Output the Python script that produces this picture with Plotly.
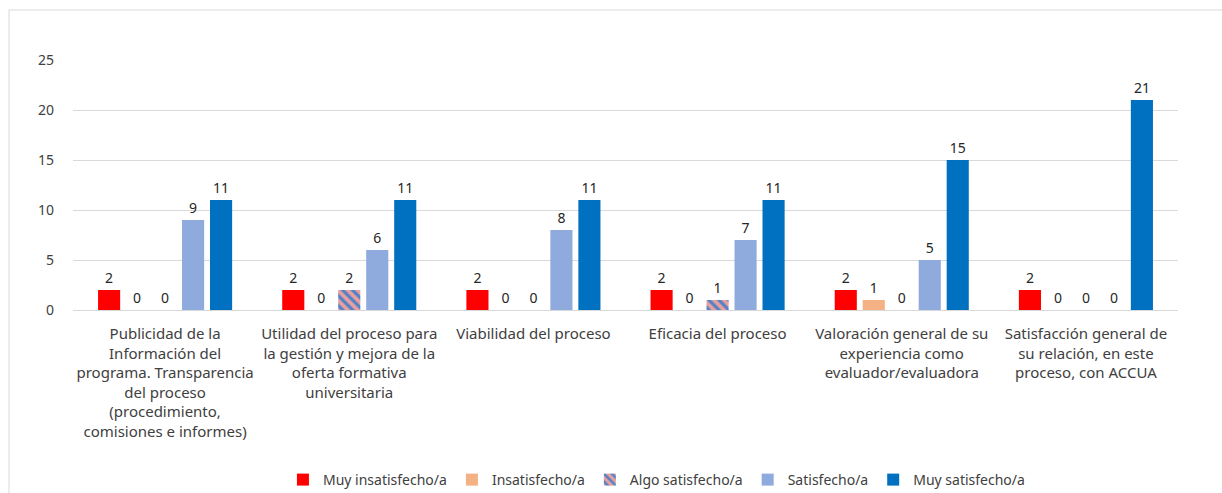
import plotly.graph_objects as go

categories = [
    "Publicidad de la<br>Información del<br>programa. Transparencia<br>del proceso<br>(procedimiento,<br>comisiones e informes)",
    "Utilidad del proceso para<br>la gestión y mejora de la<br>oferta formativa<br>universitaria",
    "Viabilidad del proceso",
    "Eficacia del proceso",
    "Valoración general de su<br>experiencia como<br>evaluador/evaluadora",
    "Satisfacción general de<br>su relación, en este<br>proceso, con ACCUA",
]
series_names = ["Muy insatisfecho/a", "Insatisfecho/a", "Algo satisfecho/a", "Satisfecho/a", "Muy satisfecho/a"]
muy_insatisfecho = [2, 2, 2, 2, 2, 2]
insatisfecho = [0, 0, 0, 0, 1, 0]
algo_satisfecho = [0, 2, 0, 1, 0, 0]
satisfecho = [9, 6, 8, 7, 5, 0]
muy_satisfecho = [11, 11, 11, 11, 15, 21]
y_ticks = [0, 5, 10, 15, 20, 25]

values = [muy_insatisfecho, insatisfecho, algo_satisfecho, satisfecho, muy_satisfecho]
colors = ["#FF0000", "#F4B183", "#E9A09F", "#8FAADC", "#0070C0"]

font_family = "Noto Sans"
fig = go.Figure()
for name, vals, col in zip(series_names, values, colors):
    marker = dict(color=col, line=dict(width=10, color="rgba(0,0,0,0)"))
    if name == "Algo satisfecho/a":
        marker["pattern"] = dict(shape="\\", fgcolor="#4F81C8", bgcolor="#E9A09F",
                                 size=7, solidity=0.45, fillmode="replace")
    fig.add_trace(go.Bar(
        name=name, x=categories, y=vals, marker=marker,
        text=[str(v) for v in vals], textposition="outside",
        textfont=dict(size=14, color="#262626", family=font_family),
        cliponaxis=False,
    ))

fig.update_layout(
    width=1222, height=493,
    barmode="group", bargap=0.24, bargroupgap=0.21,
    plot_bgcolor="white", paper_bgcolor="white",
    margin=dict(l=73, r=44, t=60, b=183),
    font=dict(family=font_family, size=14, color="#404040"),
    showlegend=True,
    legend=dict(orientation="h", x=0.528, xanchor="center",
                yref="container", y=1 - 480 / 493, yanchor="middle",
                font=dict(size=14, color="#404040"), itemwidth=30, traceorder="normal"),
    xaxis=dict(showline=True, linecolor="#D9D9D9", linewidth=1, ticks="", automargin=False,
               ticklabelstandoff=10, tickfont=dict(size=15, color="#404040")),
    yaxis=dict(range=[0, 25], tickvals=y_ticks, showgrid=True, gridcolor="#D9D9D9",
               zeroline=False, showline=False, ticks="", ticklabelstandoff=18, automargin=False,
               tickfont=dict(size=14, color="#404040")),
    shapes=[dict(type="rect", xref="paper", yref="paper",
                 x0=(9 - 73) / 1105, x1=(1300 - 73) / 1105,
                 y0=(310 - 560) / 250, y1=(310 - 10) / 250,
                 line=dict(color="#D9D9D9", width=1), fillcolor="rgba(0,0,0,0)", layer="below")],
)

fig.write_html("out.html", config={"displayModeBar": False},
               post_script="document.body.style.margin='0px';")
